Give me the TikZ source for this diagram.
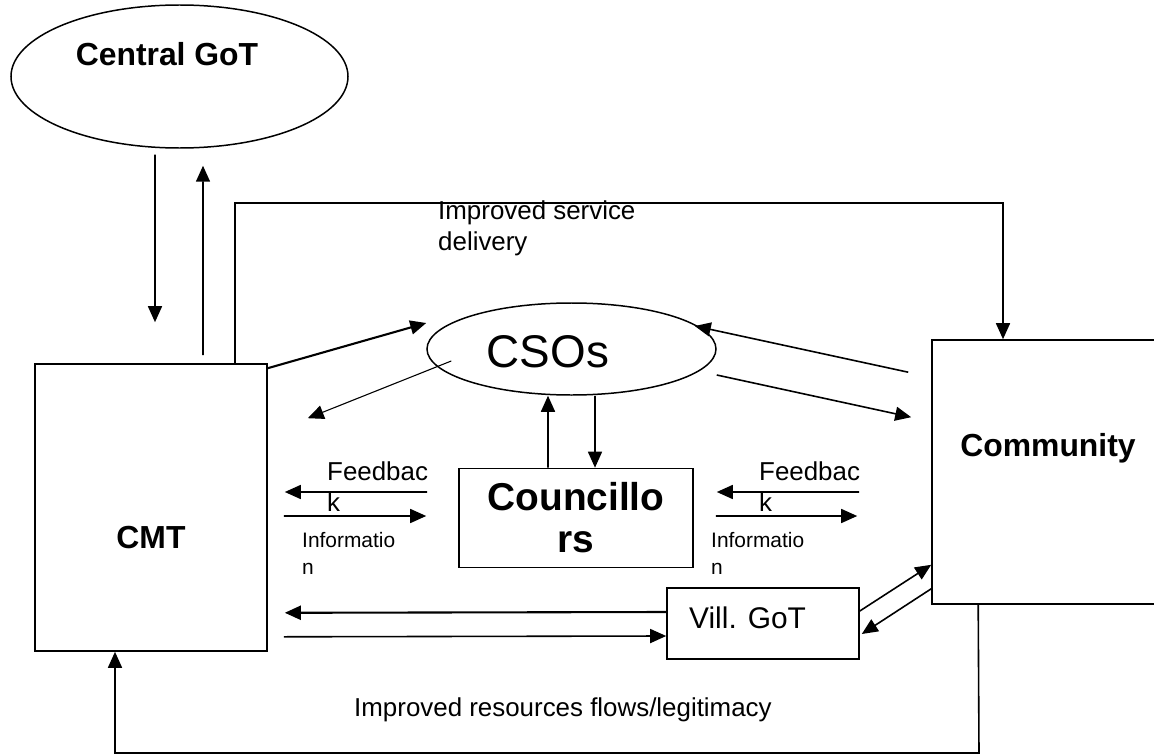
\documentclass[tikz,border=0pt]{standalone}
\usepackage{fontspec}
\setmainfont{Liberation Sans}
\usetikzlibrary{arrows.meta,shapes.geometric}

\tikzset{
  box/.style={draw, line width=1.6pt, inner sep=0pt},
  oval/.style={draw, ellipse, line width=1.5pt, inner sep=0pt},
  txt/.style={inner sep=0pt, font=\fontsize{26}{31}\selectfont},
  small/.style={inner sep=0pt, font=\fontsize{21}{27}\selectfont},
  title/.style={inner sep=0pt, font=\fontsize{32}{38}\selectfont\bfseries},
  flow/.style={line width=1.6pt, -{Triangle[length=16bp,width=14bp]}},
}

\begin{document}
\begin{tikzpicture}[x=1bp, y=-1bp]
  \clip (0,0) rectangle (1154,755);
  \fill[white] (0,0) rectangle (1154,755);

  % boxes and ovals
  \node[oval, minimum width=337bp, minimum height=143bp] (cgot) at (179.5,76.5) {};
  \node[title] (cgottxt) at (167,54) {Central GoT};
  \node[box, minimum width=232bp, minimum height=287bp] (cmt) at (151,507.5) {};
  \node[title] (cmttxt) at (151,538) {CMT};
  \node[oval, minimum width=289bp, minimum height=92bp] (csos) at (571.5,349) {};
  \node[inner sep=0pt, font=\fontsize{46}{50}\selectfont] (csostxt) at (548,352) {CSOs};
  \node[box, minimum width=234bp, minimum height=99bp, align=center,
        font=\fontsize{39}{42}\selectfont\bfseries] (coun) at (576,518) {Councillo\\rs};
  \node[box, minimum width=192bp, minimum height=71bp] (vill) at (763,623.5) {};
  \node[txt, anchor=west, font=\fontsize{30}{36}\selectfont] (villtxt) at (689,618) {Vill. GoT};
  \node[box, minimum width=238bp, minimum height=264bp] (comm) at (1051,472) {};
  \node[title] (commtxt) at (1048,448) {Community};

  % labels
  \node[txt, anchor=west, align=left] (svctxt) at (438,228) {Improved service\\delivery};
  \node[txt, anchor=west, align=left] (fbL) at (327,487) {Feedbac\\k};
  \node[small, anchor=west, align=left] (infoL) at (302,553) {Informatio\\n};
  \node[txt, anchor=west, align=left] (fbR) at (759,487) {Feedbac\\k};
  \node[small, anchor=west, align=left] (infoR) at (711,553) {Informatio\\n};
  \node[txt, anchor=west] (restxt) at (354,710) {Improved resources flows/legitimacy};

  \coordinate (svcL) at (235,203); \coordinate (svcR) at (1003,203);
  \coordinate (resL) at (115,753); \coordinate (resR) at (979,753);

  % central government and CMT
  \draw[flow] ([xshift=-24.5bp,yshift=-6bp]cgot.south) -- ([xshift=4bp,yshift=41bp]cmt.north);
  \draw[flow] ([xshift=52bp,yshift=8bp]cmt.north) -- ([xshift=23.5bp,yshift=-17bp]cgot.south);
  \draw[flow] ([xshift=84bp]cmt.north) -- (svcL) -- (svcR) -- ([xshift=-48bp]comm.north);

  % CSOs
  \draw[flow, line width=2.1pt] ([yshift=-5bp]cmt.north east) -- ([yshift=26bp]csos.west);
  \draw[flow, line width=1.1pt] ([xshift=25bp,yshift=-12bp]csos.west) -- ([xshift=40bp,yshift=-55bp]cmt.north east);
  \draw[flow] ([xshift=-23bp,yshift=-33bp]comm.north west) -- ([xshift=-22bp,yshift=23bp]csos.east);
  \draw[flow] ([yshift=-26bp]csos.east) -- ([xshift=-20bp,yshift=-78bp]comm.north west);
  \draw[flow] ([xshift=-28bp]coun.north) -- ([xshift=-23.5bp]csos.south);
  \draw[flow] ([xshift=23.5bp]csos.south) -- ([xshift=19bp]coun.north);

  % feedback and information
  \draw[flow] ([xshift=-31bp,yshift=26bp]coun.west) -- ([xshift=17bp,yshift=15.5bp]cmt.east);
  \draw[flow] ([xshift=16bp,yshift=-8.5bp]cmt.east) -- ([xshift=-32bp,yshift=2bp]coun.west);
  \draw[flow] ([xshift=-72bp,yshift=-20bp]comm.west) -- ([xshift=23bp,yshift=26bp]coun.east);
  \draw[flow] ([xshift=22bp,yshift=2bp]coun.east) -- ([xshift=-74bp,yshift=-44bp]comm.west);

  % village government
  \draw[flow, line width=2.1pt] ([yshift=11.5bp]vill.west) -- ([xshift=17bp,yshift=39bp]cmt.south east);
  \draw[flow] ([xshift=16bp,yshift=15bp]cmt.south east) -- ([yshift=-12.5bp]vill.west);
  \draw[flow] ([yshift=12.5bp]vill.east) -- ([yshift=40bp]comm.south west);
  \draw[flow] ([yshift=16bp]comm.south west) -- ([xshift=2bp,yshift=-10.5bp]vill.east);

  % back to CMT
  \draw[flow] ([xshift=47bp]comm.south west) -- (resR) -- (resL) -- ([xshift=-36bp]cmt.south);
\end{tikzpicture}
\end{document}
